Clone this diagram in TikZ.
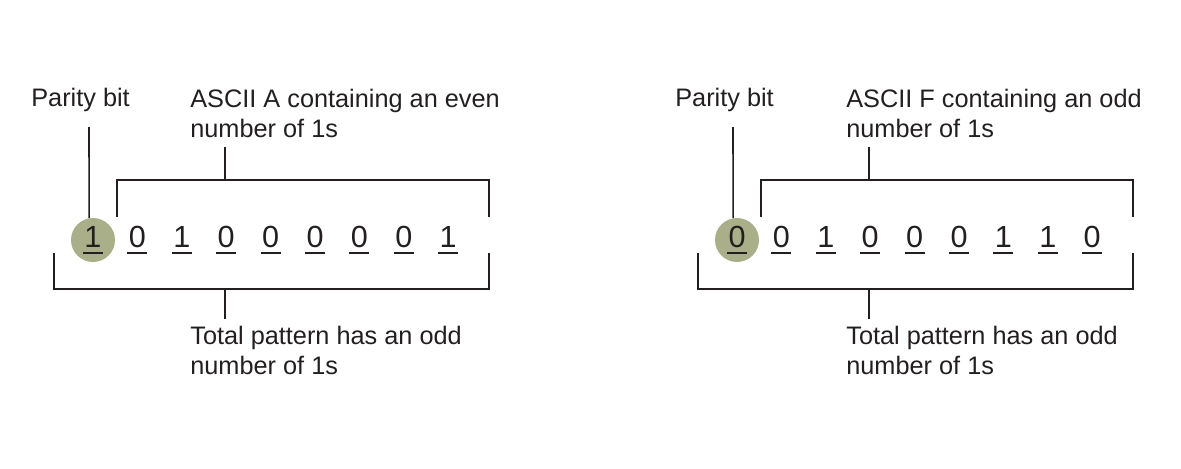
\documentclass[tikz,border=0pt]{standalone}
\usepackage{fontspec}
\setmainfont{Liberation Sans}
\usetikzlibrary{calc}
\definecolor{pOlive}{HTML}{A9AF89}
\definecolor{pInk}{HTML}{231F20}

\begin{document}
\begin{tikzpicture}[x=0.02cm, y=-0.02cm,
    lbl/.style={anchor=base west, align=left, inner sep=0pt, text=pInk,
                font=\fontsize{14.4}{17}\selectfont},
    digit/.style={anchor=base, inner sep=0pt, text=pInk,
                  font=\fontsize{17.4}{20}\selectfont},
    brk/.style={draw=pInk, line width=0.9pt}]
  \useasboundingbox (0,0) rectangle (1181,468);
  % one panel per parity example
  \foreach \dx/\lx/\pn/\bits/\head in {0/190/A/{1,0,1,0,0,0,0,0,1}/{ASCII A containing an even},
                                       644/202/F/{0,0,1,0,0,0,1,1,0}/{ASCII F containing an odd}} {
    \begin{scope}[shift={(\dx,0)}]
      \node[circle, fill=pOlive, minimum size=0.88cm, inner sep=0pt] (c\pn) at (93,240) {};
      \foreach \b [count=\i from 0] in \bits {
        \node[digit] (b\pn\i) at (93+\i*44.4,247) {\b};
        \draw[pInk, line width=0.8pt] ($(b\pn\i.base)+(-10,6)$) -- ++(20,0);
      }
      % parity bit
      \node[lbl] (par\pn) at (31,106) {Parity bit};
      \coordinate (pt\pn) at (89,127);
      \draw[brk] (c\pn.100) -- (pt\pn);
      % data bits
      \node[lbl] (head\pn) at (\lx,137) {\head\\number of 1s};
      \coordinate (tl\pn) at (117,217);
      \coordinate (tr\pn) at (489,217);
      \coordinate (ts\pn) at (225,180);
      \draw[brk] (tl\pn) |- (ts\pn) -| (tr\pn);
      \draw[brk] (ts\pn) -- ++(0,-33);
      % whole pattern
      \node[lbl] (tot\pn) at (\lx,374) {Total pattern has an odd\\number of 1s};
      \coordinate (bl\pn) at (54,253);
      \coordinate (br\pn) at (489,253);
      \coordinate (bs\pn) at (225,289);
      \draw[brk] (bl\pn) |- (bs\pn) -| (br\pn);
      \draw[brk] (bs\pn) -- ++(0,30);
    \end{scope}
  }
\end{tikzpicture}
\end{document}
